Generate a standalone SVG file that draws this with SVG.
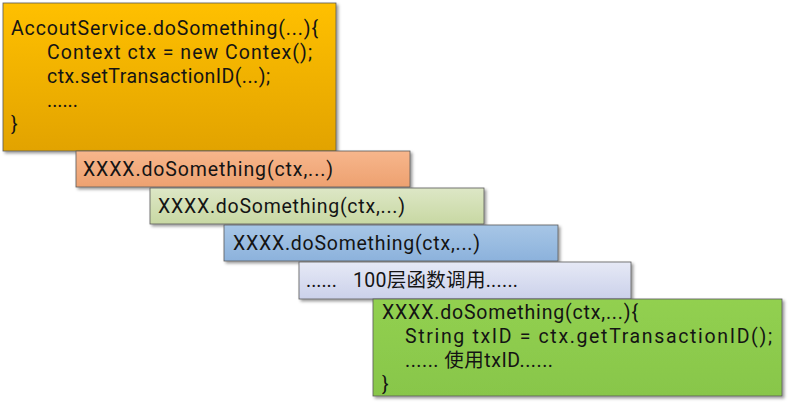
<svg xmlns="http://www.w3.org/2000/svg" width="788" height="403" viewBox="0 0 788 403">
<style>
.t{font-family:Roboto,"Noto Sans CJK SC",sans-serif;font-size:19.5px;fill:#141414}
.b{stroke:#5a5a5a;stroke-width:0.8}
</style>
<defs>
<filter id="sh" x="-5%" y="-5%" width="115%" height="130%">
<feDropShadow dx="2" dy="2" stdDeviation="1.5" flood-color="#000" flood-opacity="0.4"/>
</filter>
<linearGradient id="g1" x1="0" y1="0" x2="0" y2="1"><stop offset="0" stop-color="#FFC000"/><stop offset="1" stop-color="#E2A300"/></linearGradient>
<linearGradient id="g2" x1="0" y1="0" x2="0" y2="1"><stop offset="0" stop-color="#F7B68C"/><stop offset="1" stop-color="#EDA170"/></linearGradient>
<linearGradient id="g3" x1="0" y1="0" x2="0" y2="1"><stop offset="0" stop-color="#DDE7C6"/><stop offset="1" stop-color="#C8D8A3"/></linearGradient>
<linearGradient id="g4" x1="0" y1="0" x2="0" y2="1"><stop offset="0" stop-color="#A7C6E6"/><stop offset="1" stop-color="#8CB2DC"/></linearGradient>
<linearGradient id="g5" x1="0" y1="0" x2="0" y2="1"><stop offset="0" stop-color="#E6E9F6"/><stop offset="1" stop-color="#CBD1EA"/></linearGradient>
<linearGradient id="g6" x1="0" y1="0" x2="0" y2="1"><stop offset="0" stop-color="#92D050"/><stop offset="1" stop-color="#88C64A"/></linearGradient>
</defs>
<rect width="788" height="403" fill="#fff"/>
<g id="connectors"/>
<g id="n1">
<rect class="b" x="3" y="3" width="333" height="148" fill="url(#g1)" filter="url(#sh)"/>
<text class="t" x="11" y="35" textLength="307">AccoutService.doSomething(...){</text>
<text class="t" x="47" y="59" textLength="265">Context ctx = new Contex();</text>
<text class="t" x="47" y="83" textLength="223">ctx.setTransactionID(...);</text>
<text class="t" x="47" y="107">......</text>
<text class="t" x="11" y="131">}</text>
</g>
<g id="n2">
<rect class="b" x="76" y="151" width="334" height="36" fill="url(#g2)" filter="url(#sh)"/>
<text class="t" x="83" y="176" textLength="250">XXXX.doSomething(ctx,...)</text>
</g>
<g id="n3">
<rect class="b" x="150" y="188" width="334" height="36" fill="url(#g3)" filter="url(#sh)"/>
<text class="t" x="158" y="213" textLength="247">XXXX.doSomething(ctx,...)</text>
</g>
<g id="n4">
<rect class="b" x="224" y="225" width="334" height="36" fill="url(#g4)" filter="url(#sh)"/>
<text class="t" x="233" y="250" textLength="247">XXXX.doSomething(ctx,...)</text>
</g>
<g id="n5">
<rect class="b" x="299" y="262" width="332" height="37" fill="url(#g5)" filter="url(#sh)"/>
<text class="t" x="306" y="287">......</text>
<text class="t" x="353" y="287" textLength="165">100层函数调用......</text>
</g>
<g id="n6">
<rect class="b" x="373" y="299" width="409" height="97" fill="url(#g6)" filter="url(#sh)"/>
<text class="t" x="382" y="319" textLength="256">XXXX.doSomething(ctx,...){</text>
<text class="t" x="405" y="343" textLength="367">String txID = ctx.getTransactionID();</text>
<text class="t" x="405" y="367" textLength="148">...... 使用txID......</text>
<text class="t" x="382" y="391">}</text>
</g>
</svg>
